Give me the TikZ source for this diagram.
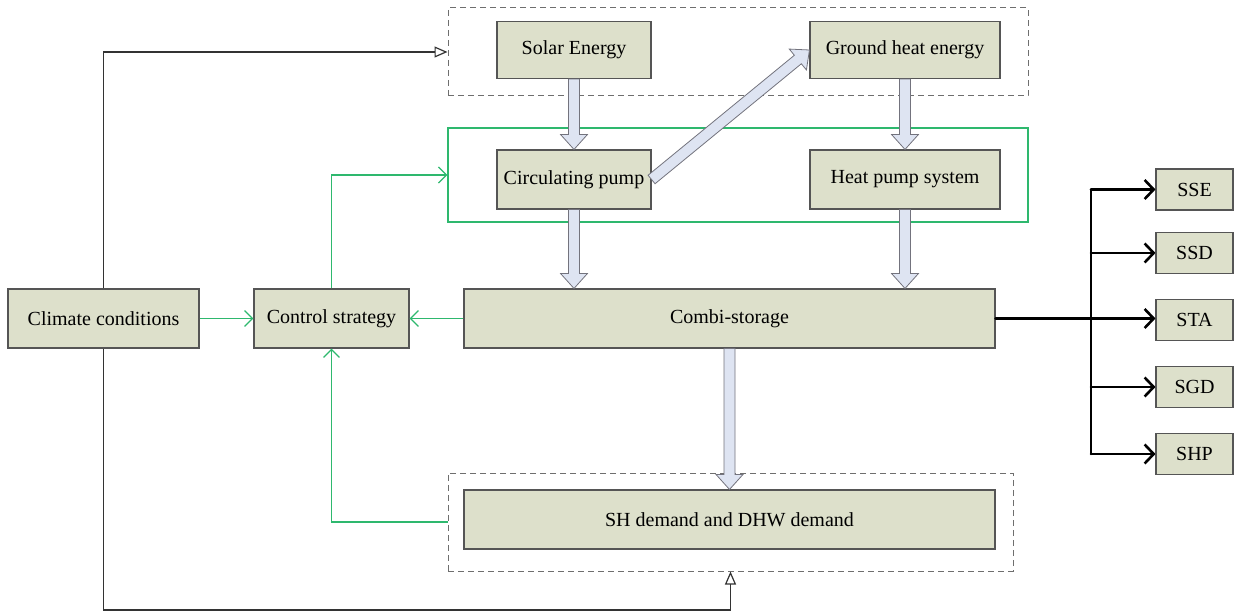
\documentclass[tikz,border=0pt]{standalone}
\usepackage{fontspec}
\setmainfont{Liberation Serif}
\usepackage{tikz}
\usetikzlibrary{arrows.meta,calc}
\definecolor{boxfill}{RGB}{221,224,203}
\definecolor{boxline}{RGB}{85,85,85}
\definecolor{arrowfill}{RGB}{222,228,242}
\definecolor{arrowline}{RGB}{115,115,125}
\definecolor{ctrlgreen}{RGB}{46,184,110}
\definecolor{groupgray}{RGB}{110,110,110}
\tikzstyle{unitbox}=[rectangle, draw=boxline, fill=boxfill, line width=1.1pt, inner sep=0pt, font=\fontsize{20}{24}\selectfont]
\tikzstyle{indexbox}=[unitbox, minimum width=77pt, minimum height=41pt]
\tikzstyle{groupbox}=[rectangle, draw=groupgray, line width=1pt, dash pattern=on 6pt off 4pt, inner sep=0pt]
\tikzstyle{loopbox}=[rectangle, draw=ctrlgreen, line width=1.3pt, inner sep=0pt]
\tikzstyle{ctrl}=[draw=ctrlgreen, line width=1.3pt, -{Straight Barb[length=8pt,width=16pt]}]
\tikzstyle{feed}=[draw=black!80, line width=1.2pt, -{Triangle[open,length=13pt,width=11pt]}]
\tikzstyle{bus}=[draw=black, line width=2.6pt, line cap=round]
\tikzstyle{busarrow}=[bus, -{Straight Barb[length=9pt,width=19pt]}]
\tikzstyle{blockarrow}=[draw=arrowline, fill=arrowfill, line width=0.8pt, line join=miter,
  to path={($(\tikztotarget)!15pt!(\tikztostart)$) coordinate (hb)
    ($(\tikztostart)!5.5pt!90:(\tikztotarget)$) -- ($(hb)!5.5pt!90:(\tikztotarget)$)
    -- ($(hb)!13.5pt!90:(\tikztotarget)$) -- (\tikztotarget)
    -- ($(hb)!13.5pt!-90:(\tikztotarget)$) -- ($(hb)!5.5pt!-90:(\tikztotarget)$)
    -- ($(\tikztostart)!5.5pt!-90:(\tikztotarget)$) -- cycle}]

\begin{document}
\begin{tikzpicture}[x=1pt, y=-1pt]
		   \useasboundingbox (0, 0) rectangle (1235, 612);
		   % groups
		   \begin{scope}
			   \node (sources) at (738, 52)[groupbox, minimum width=580pt, minimum height=88pt] {};
			   \node (pumps) at (738, 175)[loopbox, minimum width=580pt, minimum height=94pt] {};
			   \node (demand) at (730.5, 522)[groupbox, minimum width=565pt, minimum height=98pt] {};
		   \end{scope}
		   % units
		   \begin{scope}
			   \node (climate) at (103.5, 318.5)[unitbox, minimum width=191pt, minimum height=59pt] {Climate conditions};
			   \node (control) at (331.5, 318.5)[unitbox, minimum width=155pt, minimum height=59pt] {Control strategy};
			   \node (combi) at (729.5, 318.5)[unitbox, minimum width=531pt, minimum height=59pt] {Combi-storage};
			   \node (solar) at (574, 50)[unitbox, minimum width=154pt, minimum height=57pt] {Solar Energy};
			   \node (ground) at (905, 50)[unitbox, minimum width=190pt, minimum height=57pt] {Ground heat energy};
			   \node (circ) at (574, 179.5)[unitbox, minimum width=154pt, minimum height=59pt] {Circulating pump};
			   \node (hps) at (905, 179.5)[unitbox, minimum width=190pt, minimum height=59pt] {Heat pump system};
			   \node (shd) at (729.5, 519.5)[unitbox, minimum width=531pt, minimum height=59pt] {SH demand and DHW demand};
			   \node (sse) at (1194.5, 189.5)[indexbox] {SSE};
			   \node (ssd) at (1194.5, 253)[indexbox] {SSD};
			   \node (sta) at (1194.5, 320)[indexbox] {STA};
			   \node (sgd) at (1194.5, 387)[indexbox] {SGD};
			   \node (shp) at (1194.5, 454)[indexbox] {SHP};
			   \coordinate (trunk) at (1091, 0);
			   \coordinate (base) at (730.5, 610);
		   \end{scope}
		   % energy flows
		   \begin{scope}
			   \path (solar.south) edge[blockarrow] (circ.north);
			   \path (ground.south) edge[blockarrow] (hps.north);
			   \path (circ.south) edge[blockarrow] (circ.south |- combi.north);
			   \path (hps.south) edge[blockarrow] (hps.south |- combi.north);
			   \path (circ.east) edge[blockarrow] (ground.west);
			   \path (combi.south) edge[blockarrow] (combi.south |- shd.north);
		   \end{scope}
		   % signals
		   \begin{scope}
			   \draw[feed] (climate.north) |- (sources.west);
			   \draw[feed] (climate.south) |- (base) -- (demand.south);
			   \path[ctrl] (climate) edge (control);
			   \path[ctrl] (combi) edge (control);
			   \draw[ctrl] (control.north) |- (pumps.west);
			   \draw[ctrl] (demand.west) -| (control.south);
		   \end{scope}
		   % evaluation indices
		   \begin{scope}
			   \draw[bus] (trunk |- sse) -- (trunk |- shp);
			   \draw[busarrow] (combi.east) -- (combi.east -| sta.west);
			   \foreach \idx in {sse, ssd, sgd, shp}
				   \draw[busarrow] (trunk |- \idx) -- (\idx);
		   \end{scope}
	   \end{tikzpicture}
\end{document}
